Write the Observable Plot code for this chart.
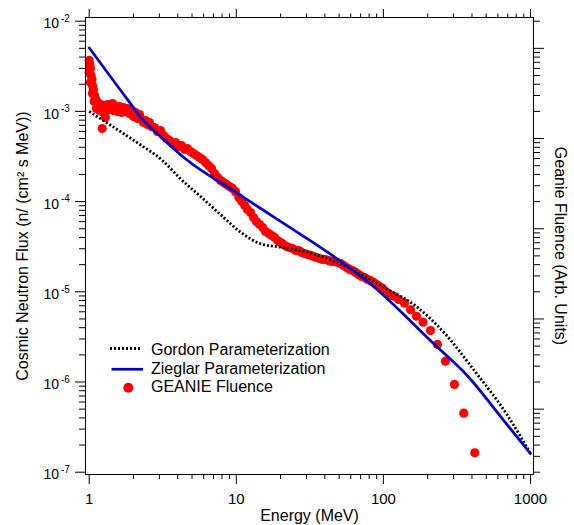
<!DOCTYPE html>
<html><head><meta charset="utf-8">
<script src="https://cdn.jsdelivr.net/npm/d3@7"></script>
<script src="https://cdn.jsdelivr.net/npm/@observablehq/plot@0.6"></script>
<style>
body{margin:0;background:#fff;font-family:"Liberation Sans",Arial,sans-serif;}
#wrap{position:relative;width:574px;height:525px;}
#legend{position:absolute;left:110px;top:341.25px;font-size:16px;line-height:18.5px;color:#000;}
#legend .row{display:flex;align-items:center;height:18.5px;white-space:nowrap;}
#legend svg{margin-right:5px;flex:none;}
</style></head><body>
<div id="wrap"><div id="legend"></div></div>
<script>
// ---- data ----
const gordonEnergy = [1, 2.0, 2.23, 3.13, 4.18, 5.71, 7.80, 10.7, 14.6, 20.0, 33.6, 53.8, 100.7, 170, 258, 412, 695, 1000];
const gordonFlux   = [1.0e-3, 4.8e-4, 4.27e-4, 2.88e-4, 1.79e-4, 1.14e-4, 7.19e-5, 4.58e-5, 3.41e-5, 3.12e-5, 2.64e-5, 1.96e-5, 1.12e-5, 6.75e-6, 3.54e-6, 1.36e-6, 4.3e-7, 1.61e-7];

const zieglarEnergy = [1, 1.51, 1.91, 2.23, 3.05, 4.51, 10.0, 20.0, 48.5, 84.1, 220, 371, 658, 1000];
const zieglarFlux   = [5.07e-3, 2.04e-3, 1.22e-3, 8.62e-4, 5.27e-4, 2.98e-4, 1.26e-4, 6.02e-5, 2.32e-5, 1.175e-5, 2.65e-6, 1.18e-6, 3.74e-7, 1.61e-7];

const geanieEnergy = [1.00,1.01,1.02,1.00,1.03,1.045,1.02,1.053,1.07,1.053,
  1.086,1.11,1.08,1.14,1.157,1.12,1.175,1.20,1.226,1.25,
  1.27,1.29,1.33,1.35,1.40,1.44,1.46,1.51,1.56,1.61,
  1.66,1.71,1.77,1.82,1.88,1.94,2.00,2.06,2.13,2.20,
  2.27,2.34,2.41,2.49,2.57,2.65,2.78,2.91,3.05,3.20,
  3.35,3.52,3.69,3.86,4.05,4.24,4.45,4.66,4.88,5.12,
  5.37,5.62,5.89,6.18,6.47,6.79,7.11,7.46,7.81,8.19,
  8.58,8.99,9.43,9.88,10.4,10.9,11.4,11.9,12.5,13.1,
  13.7,14.4,15.1,15.8,16.6,17.4,18.2,19.1,20.0,20.9,
  22.0,23.0,24.1,25.3,26.5,27.8,29.1,30.5,32.0,33.5,
  35.1,36.8,38.6,40.4,42.4,44.4,46.6,48.8,51.2,53.6,
  56.2,58.9,61.7,64.7,67.8,71.1,74.5,78.1,81.8,85.8,
  89.9,94.2,98.7,103,108,114,119,127,139,153,
  168,186,209,233,264,304,352,418];
const geanieFlux = [3.67e-3,3.31e-3,2.99e-3,2.70e-3,2.50e-3,2.26e-3,2.09e-3,1.94e-3,1.75e-3,1.58e-3,
  1.50e-3,1.355e-3,1.29e-3,1.255e-3,1.13e-3,1.077e-3,1.023e-3,1.19e-3,6.46e-4,9.72e-4,
  1.13e-3,8.56e-4,1.19e-3,1.05e-3,1.13e-3,1.224e-3,1.023e-3,1.13e-3,9.98e-4,1.13e-3,
  9.72e-4,1.105e-3,9.98e-4,1.077e-3,9.48e-4,1.023e-3,8.78e-4,9.72e-4,8.34e-4,9.24e-4,
  8.13e-4,7.53e-4,7.93e-4,7.16e-4,7.53e-4,6.80e-4,6.63e-4,5.99e-4,6.14e-4,5.41e-4,
  5.01e-4,4.76e-4,4.41e-4,4.52e-4,4.08e-4,4.19e-4,3.78e-4,3.88e-4,3.59e-4,3.41e-4,
  3.24e-4,3.08e-4,2.93e-4,2.71e-4,2.51e-4,2.33e-4,2.05e-4,1.85e-4,1.71e-4,1.63e-4,
  1.55e-4,1.47e-4,1.40e-4,1.29e-4,1.11e-4,1.003e-4,9.05e-5,8.18e-5,7.57e-5,6.66e-5,
  6.02e-5,5.57e-5,5.16e-5,4.66e-5,4.43e-5,4.21e-5,4.00e-5,3.70e-5,3.52e-5,3.35e-5,
  3.18e-5,3.10e-5,3.02e-5,2.87e-5,2.87e-5,2.73e-5,2.66e-5,2.59e-5,2.53e-5,2.46e-5,
  2.40e-5,2.34e-5,2.28e-5,2.28e-5,2.22e-5,2.17e-5,2.17e-5,2.11e-5,2.06e-5,1.96e-5,
  1.86e-5,1.77e-5,1.72e-5,1.64e-5,1.56e-5,1.48e-5,1.44e-5,1.37e-5,1.33e-5,1.27e-5,
  1.205e-5,1.145e-5,1.09e-5,1.008e-5,9.58e-6,9.10e-6,8.87e-6,8.22e-6,7.48e-6,6.32e-6,
  5.36e-6,4.60e-6,3.72e-6,2.61e-6,1.70e-6,9.39e-7,4.51e-7,1.64e-7];

// ---- ticks & labels ----
const xMajor = [1, 10, 100, 1000];
const xMajorLabels = ["1", "10", "100", "1000"];
const xMinor = [2,3,4,5,6,7,8,9, 20,30,40,50,60,70,80,90, 200,300,400,500,600,700,800,900];
const xMinorLabels = ["2","3","4","5","6","","","", "2","3","4","5","6","","","", "2","3","4","5","6","","",""];
const yMajor = [1e-7, 1e-6, 1e-5, 1e-4, 1e-3, 1e-2];
const yExponents = ["-7", "-6", "-5", "-4", "-3", "-2"];
const mult = [2,3,4,5,6,7,8,9];
const yMinor = [1e-7, 1e-6, 1e-5, 1e-4, 1e-3].flatMap(d => mult.map(k => k * d));
// right (GEANIE, arbitrary units) axis: its decades sit at 5x the left ones
const geanieAxisMajor = [1e-4, 1e-3, 1e-2, 1e-1, 1];
const geanieAxisMinor = [...[1e-5, 1e-4, 1e-3, 1e-2, 1e-1].flatMap(d => mult.map(k => k * d)), 2];
const geanieToFlux = 5e-3;

const xTitle = "Energy (MeV)";
const yTitle = "Cosmic Neutron Flux (n/ (cm\u00B2 s MeV))";
const y2Title = "Geanie Fluence (Arb. Units)";
const seriesNames = ["Gordon Parameterization", "Zieglar Parameterization", "GEANIE Fluence"];
const seriesColors = ["#000000", "#0000c8", "#ff0000"];

const gordon = gordonEnergy.map((E, i) => ({E, flux: gordonFlux[i]}));
const zieglar = zieglarEnergy.map((E, i) => ({E, flux: zieglarFlux[i]}));
const geanie = geanieEnergy.map((E, i) => ({E, flux: geanieFlux[i]}));
const minorLabel = new Map(xMinor.map((v, i) => [v, xMinorLabels[i]]));
const majorLabel = new Map(xMajor.map((v, i) => [v, xMajorLabels[i]]));
const rightMajor = geanieAxisMajor.map(v => v * geanieToFlux);
const rightMinor = geanieAxisMinor.map(v => v * geanieToFlux).filter(v => v >= 0.99e-7 && v <= 1.01e-2);

const font = '"Liberation Sans", Arial, sans-serif';
const blank = () => "";

const chart = Plot.plot({
  width: 574, height: 525,
  marginLeft: 85, marginRight: 41, marginTop: 17, marginBottom: 51,
  insetLeft: 3.7, insetRight: 3, insetTop: 3.7, insetBottom: 2.3,
  style: {fontFamily: font, background: "#fff", color: "#000", overflow: "visible"},
  x: {type: "log", domain: [1, 1000]},
  y: {type: "log", domain: [1e-7, 1e-2]},
  marks: [
    Plot.dot(geanie, {x: "E", y: "flux", r: 4.6, fill: seriesColors[2], stroke: "none"}),
    Plot.line(gordon, {x: "E", y: "flux", stroke: seriesColors[0], strokeWidth: 2.8, strokeDasharray: "2,2", strokeLinecap: "butt", strokeLinejoin: "miter", curve: "monotone-x"}),
    Plot.line(zieglar, {x: "E", y: "flux", stroke: seriesColors[1], strokeWidth: 2.7, curve: "monotone-x"}),
    Plot.frame({stroke: "#000", strokeWidth: 1}),
    // bottom axis
    Plot.axisX(xMajor, {anchor: "bottom", tickSize: 10, tickPadding: 9, fontSize: 15, tickFormat: d => majorLabel.get(d), label: null}),
    Plot.axisX(xMinor, {anchor: "bottom", tickSize: 5, tickPadding: 3.5, fontSize: 8.5, tickFormat: d => minorLabel.get(d), label: null}),
    // top axis
    Plot.axisX(xMajor, {anchor: "top", tickSize: 9, tickFormat: blank, label: null}),
    Plot.axisX(xMinor, {anchor: "top", tickSize: 4.5, tickFormat: blank, label: null}),
    // left axis
    Plot.axisY(yMajor, {anchor: "left", tickSize: 10, tickFormat: blank, label: null}),
    Plot.axisY(yMinor, {anchor: "left", tickSize: 6, tickFormat: blank, label: null}),
    // right axis
    Plot.axisY(rightMajor, {anchor: "right", tickSize: 10, tickFormat: blank, label: null}),
    Plot.axisY(rightMinor, {anchor: "right", tickSize: 6, tickFormat: blank, label: null}),
    // left tick labels 10^n
    Plot.text(yMajor, {y: d => d, frameAnchor: "left", text: () => "10", textAnchor: "end", dx: -26.5, dy: 2.8, fontSize: 14}),
    Plot.text(yMajor, {y: d => d, frameAnchor: "left", text: (d, i) => yExponents[i], textAnchor: "start", dx: -24.5, dy: -2.5, fontSize: 10}),
    // titles
    Plot.text([xTitle], {frameAnchor: "bottom", dy: 41.5, lineAnchor: "middle", textAnchor: "middle", fontSize: 16}),
    Plot.text([yTitle], {frameAnchor: "left", dx: -63, rotate: -90, textAnchor: "middle", lineAnchor: "middle", fontSize: 16}),
    Plot.text([y2Title], {frameAnchor: "right", dx: 27, rotate: 90, textAnchor: "middle", lineAnchor: "middle", fontSize: 16})
  ]
});
document.getElementById("wrap").prepend(chart);

// legend
const swatches = [
  `<svg width="36" height="18.5"><line x1="0" x2="30" y1="7.5" y2="7.5" stroke="${seriesColors[0]}" stroke-width="2.8" stroke-dasharray="2 2"/></svg>`,
  `<svg width="36" height="18.5"><line x1="1.5" x2="33" y1="9.25" y2="9.25" stroke="${seriesColors[1]}" stroke-width="2.7"/></svg>`,
  `<svg width="36" height="18.5"><circle cx="18.3" cy="9.75" r="5" fill="${seriesColors[2]}"/></svg>`
];
document.getElementById("legend").innerHTML = seriesNames.map((n, i) =>
  `<div class="row">${swatches[i]}<span>${n}</span></div>`).join("");
</script>
</body></html>
